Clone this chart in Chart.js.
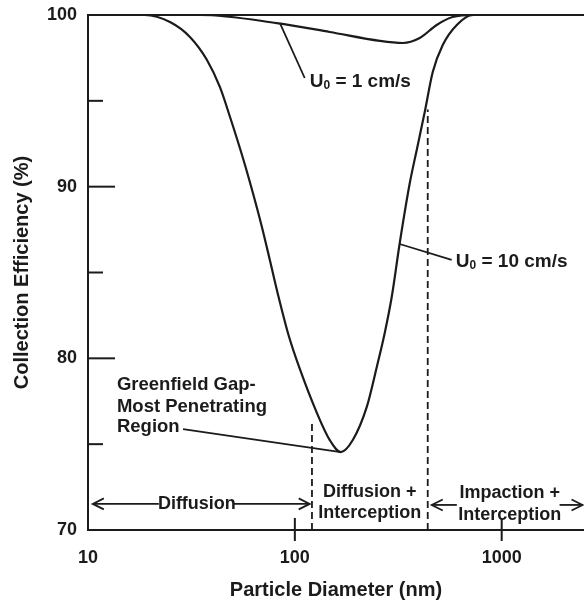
<!DOCTYPE html>
<html>
<head>
<meta charset="utf-8">
<script src="https://cdn.jsdelivr.net/npm/chart.js@4/dist/chart.umd.min.js"></script>
<style>
  html, body { margin: 0; padding: 0; background: #ffffff; }
  #wrap { width: 584px; height: 600px; }
</style>
</head>
<body>
<div id="wrap"><canvas id="c" width="584" height="600"></canvas></div>
<script>
// ---- data ----
const diameter10 = [10, 18.8, 24.9, 31.1, 37.6, 43.4, 48.6, 56.1, 62.7, 69.3, 75.7, 83.7, 93.5, 105.7, 127.8, 147.5, 166.8, 190.6, 222.7, 249, 272, 294, 321.5, 359.5, 388.4, 424.6, 464.2, 518.8, 606.6, 724.9, 2500];
const efficiency10 = [100, 100, 99.59, 98.72, 97.38, 95.81, 94.06, 91.67, 89.63, 87.65, 85.73, 83.51, 81.3, 79.38, 76.82, 75.24, 74.54, 75.24, 77.17, 79.5, 81.48, 83.57, 86.72, 90.21, 92.14, 94.35, 96.68, 98.25, 99.42, 100, 100];
const diameter1 = [10, 34.8, 81.8, 147.5, 257.6, 332.4, 401.6, 485, 579, 741, 2500];
const efficiency1 = [100, 100, 99.53, 99.01, 98.49, 98.37, 98.66, 99.42, 99.88, 100, 100];
const regionBoundaries = [121, 439];          // nm, dashed lines
const boundaryTops = [76.4, 94.5];            // % where each dashed line meets the curve
const xTickValues = [10, 100, 1000];
const yMajorTickValues = [70, 80, 90, 100];
const yMinorTickValues = [75, 85, 95];
const xRange = [10, 2500];
const yRange = [70, 100];

const INK = '#1b1b1b';
const FAMILY = '"Liberation Sans", Arial, Helvetica, sans-serif';
const F = s => 'bold ' + s + 'px ' + FAMILY;

const toXY = (xs, ys) => xs.map((v, i) => ({ x: v, y: ys[i] }));

const datasets = [
  { label: 'U0 = 10 cm/s', data: toXY(diameter10, efficiency10), borderColor: INK, borderWidth: 2.2,
    pointRadius: 0, cubicInterpolationMode: 'monotone', fill: false, clip: false },
  { label: 'U0 = 1 cm/s', data: toXY(diameter1, efficiency1), borderColor: INK, borderWidth: 2.2,
    pointRadius: 0, cubicInterpolationMode: 'monotone', fill: false, clip: false }
];
regionBoundaries.forEach((b, i) => {
  datasets.push({ label: 'boundary' + i, data: [{ x: b, y: yRange[0] }, { x: b, y: boundaryTops[i] }],
    borderColor: INK, borderWidth: 1.8, borderDash: [7, 4], pointRadius: 0, fill: false });
});

function seg(ctx, x1, y1, x2, y2) { ctx.beginPath(); ctx.moveTo(x1, y1); ctx.lineTo(x2, y2); ctx.stroke(); }
function arrowHead(ctx, x, y, dir) {
  ctx.beginPath();
  ctx.moveTo(x - dir * 11, y - 5.5); ctx.lineTo(x, y); ctx.lineTo(x - dir * 11, y + 5.5);
  ctx.stroke();
}
function uLabel(ctx, x, y, rest) {
  ctx.textAlign = 'left'; ctx.textBaseline = 'middle';
  ctx.font = F(19); ctx.fillText('U', x, y); let w = ctx.measureText('U').width;
  ctx.font = F(12); ctx.fillText('0', x + w, y + 4); w += ctx.measureText('0').width;
  ctx.font = F(19); ctx.fillText(rest, x + w, y);
}
function centeredText(ctx, txt, x, y, size) {
  ctx.font = F(size); ctx.textAlign = 'center'; ctx.textBaseline = 'middle';
  ctx.fillText(txt, x, y);
}

const annotations = {
  id: 'annotations',
  afterDatasetsDraw(chart) {
    const { ctx, chartArea: a, scales: { x, y } } = chart;
    const X = v => x.getPixelForValue(v), Y = v => y.getPixelForValue(v);
    ctx.save();
    ctx.strokeStyle = INK; ctx.fillStyle = INK; ctx.lineWidth = 2; ctx.lineCap = 'butt';
    // frame top line
    seg(ctx, a.left, a.top, a.right, a.top);
    // inward y tick marks
    yMajorTickValues.filter(v => v > yRange[0] && v < yRange[1]).forEach(v => seg(ctx, a.left, Y(v), a.left + 27, Y(v)));
    yMinorTickValues.forEach(v => seg(ctx, a.left, Y(v), a.left + 15, Y(v)));
    // x tick marks crossing axis
    xTickValues.filter(v => v > xRange[0]).forEach(v => seg(ctx, X(v), a.bottom - 12, X(v), a.bottom + 11));

    ctx.lineWidth = 1.8;
    // U0 = 1 cm/s
    seg(ctx, X(84.7), Y(99.53), X(111.6), Y(96.33));
    uLabel(ctx, X(118), Y(96.1), ' = 1 cm/s');
    // U0 = 10 cm/s
    seg(ctx, X(321), Y(86.66), X(573), Y(85.73));
    uLabel(ctx, X(600), Y(85.61), ' = 10 cm/s');
    // Greenfield gap
    ctx.font = F(18.5); ctx.textAlign = 'left'; ctx.textBaseline = 'middle';
    ctx.fillText('Greenfield Gap-', X(13.8), Y(78.45));
    ctx.fillText('Most Penetrating', X(13.8), Y(77.17));
    ctx.fillText('Region', X(13.8), Y(76.0));
    seg(ctx, X(28.8), Y(75.88), X(166.8), Y(74.54));

    // Diffusion arrow
    const yd = Y(71.52);
    seg(ctx, X(10.55), yd, X(22.0), yd);
    seg(ctx, X(50.5), yd, X(118), yd);
    arrowHead(ctx, X(10.55), yd, -1);
    arrowHead(ctx, X(118), yd, 1);
    centeredText(ctx, 'Diffusion', X(33.6), yd, 18);
    // Diffusion + Interception
    centeredText(ctx, 'Diffusion +', X(230), Y(72.21), 18);
    centeredText(ctx, 'Interception', X(230), Y(70.99), 18);
    // Impaction + Interception
    const yi = Y(71.46);
    seg(ctx, X(459), yi, X(607), yi);
    arrowHead(ctx, X(459), yi, -1);
    seg(ctx, X(1905), yi, X(2460), yi);
    arrowHead(ctx, X(2460), yi, 1);
    centeredText(ctx, 'Impaction +', X(1094), Y(72.16), 18);
    centeredText(ctx, 'Interception', X(1094), Y(70.87), 18);
    ctx.restore();
  }
};

new Chart(document.getElementById('c'), {
  type: 'line',
  data: { datasets },
  options: {
    responsive: false,
    animation: false,
    devicePixelRatio: 1,
    layout: { padding: { top: 15, right: 0, bottom: 0, left: 0 } },
    plugins: { legend: { display: false }, tooltip: { enabled: false } },
    elements: { line: { tension: 0 } },
    scales: {
      x: {
        type: 'logarithmic', min: xRange[0], max: xRange[1],
        afterBuildTicks: s => { s.ticks = xTickValues.map(v => ({ value: v })); },
        afterFit: s => { s.height = 70; s.paddingRight = 0; },
        grid: { display: false, drawTicks: false },
        border: { display: true, color: INK, width: 2 },
        ticks: { color: INK, font: { family: FAMILY, size: 18, weight: 'bold' }, padding: 17,
                 maxRotation: 0, autoSkip: false, callback: v => String(v) },
        title: { display: true, text: 'Particle Diameter (nm)', color: INK,
                 font: { family: FAMILY, size: 20, weight: 'bold', lineHeight: 1 }, padding: { top: 0, bottom: 0 } }
      },
      y: {
        type: 'linear', min: yRange[0], max: yRange[1],
        afterBuildTicks: s => { s.ticks = yMajorTickValues.map(v => ({ value: v })); },
        afterFit: s => { s.width = 88; s.paddingTop = 0; s.paddingBottom = 0; },
        grid: { display: false, drawTicks: false },
        border: { display: true, color: INK, width: 2 },
        ticks: { color: INK, font: { family: FAMILY, size: 18, weight: 'bold' }, padding: 11 },
        title: { display: true, text: 'Collection Efficiency (%)', color: INK,
                 font: { family: FAMILY, size: 20, weight: 'bold', lineHeight: 1.2 }, padding: { top: 10, bottom: 0 } }
      }
    }
  },
  plugins: [annotations]
});
</script>
</body>
</html>
